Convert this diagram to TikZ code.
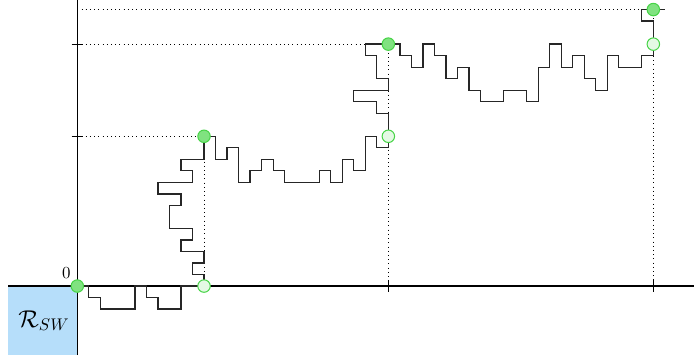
\documentclass[tikz,border=0pt]{standalone}
\definecolor{boxblue}{RGB}{182,222,250}
\definecolor{ptborder}{RGB}{70,212,70}
\definecolor{ptfill}{RGB}{128,226,128}
\definecolor{ptlight}{RGB}{228,249,228}
\begin{document}
\begin{tikzpicture}[x=0.24cm,y=0.24cm,
  walk/.style={line width=0.75pt, black!85, line join=miter},
  guide/.style={dotted, line width=0.5pt},
  axisline/.style={line width=0.7pt, black},
  tickmark/.style={line width=0.7pt, black},
  fullpt/.style={circle, draw=ptborder, fill=ptfill, line width=0.6pt, inner sep=0pt, minimum size=7.4pt},
  openpt/.style={circle, draw=ptborder, fill=ptlight, line width=0.6pt, inner sep=0pt, minimum size=7.4pt}]
\useasboundingbox (-6.71,-6.51) rectangle (53.53,24.83);
% region box
\fill[boxblue] (-6,-6) rectangle (0,0);
\node (rsw) at (-2.9,-3) {\Large $\mathcal{R}_{SW}$};
% guide lines
\coordinate (O) at (0,0);
\coordinate (A) at (11,13);
\coordinate (B) at (27,21);
\coordinate (C) at (50,24);
\coordinate (A0) at (11,0);
\coordinate (B0) at (27,13);
\coordinate (C0) at (50,21);
\draw[guide] (0,13) -- (A);
\draw[guide] (0,21) -- (B);
\draw[guide] (0,24) -- (C);
\draw[guide] (A) -- (11,0);
\draw[guide] (B) -- (27,0);
\draw[guide] (C) -- (50,0);
% axes
\draw[axisline] (-6,0) -- (53.53,0);
\draw[axisline] (0,-6) -- (0,24.83);
\foreach \yy in {13,21} \draw[tickmark] (-0.5,\yy) -- (0.45,\yy);
\foreach \xx in {27,50} \draw[tickmark] (\xx,-0.5) -- (\xx,0.5);
% walk
\draw[walk] (O) -- (1,0) -- (1,-1) -- (2,-1) -- (2,-2) -- (5,-2) -- (5,0) -- (6,0) -- (6,-1) -- (7,-1) -- (7,-2) -- (9,-2) -- (9,0) -- (A0)
  -- (11,1) -- (10,1) -- (10,2) -- (11,2) -- (11,3) -- (9,3) -- (9,4) -- (10,4) -- (10,5) -- (8,5) -- (8,7) -- (9,7) -- (9,8) -- (7,8) -- (7,9) -- (10,9) -- (10,10) -- (9,10) -- (9,11) -- (11,11) -- (A)
  -- (12,13) -- (12,11) -- (13,11) -- (13,12) -- (14,12) -- (14,9) -- (15,9) -- (15,10) -- (16,10) -- (16,11) -- (17,11) -- (17,10) -- (18,10) -- (18,9) -- (21,9) -- (21,10) -- (22,10) -- (22,9) -- (23,9) -- (23,11) -- (24,11) -- (24,10) -- (25,10) -- (25,13) -- (26,13) -- (26,12) -- (27,12) -- (B0)
  -- (27,15) -- (26,15) -- (26,16) -- (24,16) -- (24,17) -- (27,17) -- (27,18) -- (26,18) -- (26,20) -- (25,20) -- (25,21) -- (B)
  -- (28,21) -- (28,20) -- (29,20) -- (29,19) -- (30,19) -- (30,21) -- (31,21) -- (31,20) -- (32,20) -- (32,18) -- (33,18) -- (33,19) -- (34,19) -- (34,17) -- (35,17) -- (35,16) -- (37,16) -- (37,17) -- (39,17) -- (39,16) -- (40,16) -- (40,19) -- (41,19) -- (41,21) -- (42,21) -- (42,19) -- (43,19) -- (43,20) -- (44,20) -- (44,18) -- (45,18) -- (45,17) -- (46,17) -- (46,20) -- (47,20) -- (47,19) -- (49,19) -- (49,20) -- (50,20) -- (C0)
  -- (50,23) -- (49,23) -- (49,24) -- (C) -- (51,24);
% points
\node[fullpt] (pO) at (O) {};
\node[fullpt] (pA) at (A) {};
\node[fullpt] (pB) at (B) {};
\node[fullpt] (pC) at (C) {};
\node[openpt] (qA) at (A0) {};
\node[openpt] (qB) at (B0) {};
\node[openpt] (qC) at (C0) {};
\node (zero) at (-0.95,1.15) {0};
\end{tikzpicture}
\end{document}
